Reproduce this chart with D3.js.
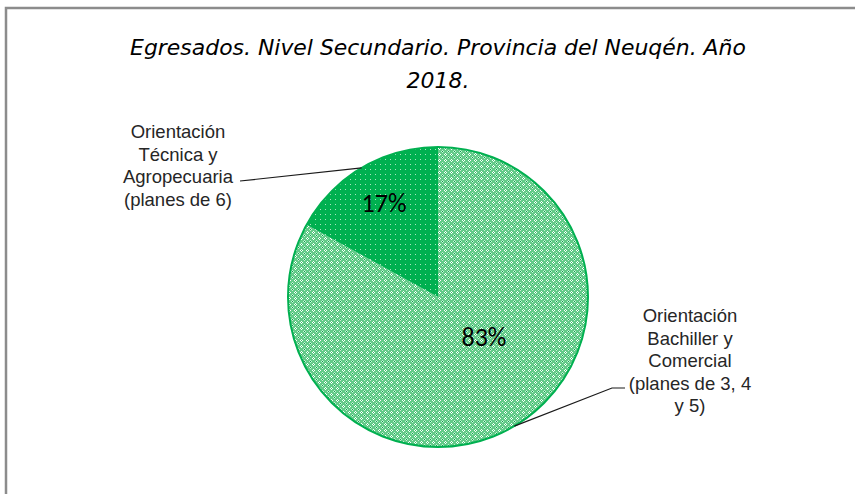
<!DOCTYPE html>
<html>
<head>
<meta charset="utf-8">
<script src="https://cdn.jsdelivr.net/npm/d3@7"></script>
<style>
  body { margin: 0; background: #fff; }
  svg { display: block; }
</style>
</head>
<body>
<div id="chart"></div>
<script>
// chart data
const categories = [
  'Orientación Bachiller y Comercial (planes de 3, 4 y 5)',
  'Orientación Técnica y Agropecuaria (planes de 6)'
]
const labelLines = [
  ['Orientación', 'Bachiller y', 'Comercial', '(planes de 3, 4', 'y 5)'],
  ['Orientación', 'Técnica y', 'Agropecuaria', '(planes de 6)']
]
const values = [83, 17]
const titleLines = ['Egresados. Nivel Secundario. Provincia del Neuqén. Año', '2018.']

const fullWidth = 857
const fullHeight = 494
const cx = 438, cy = 297, radius = 150

const svg = d3.select('#chart').append('svg')
  .attr('width', fullWidth)
  .attr('height', fullHeight)

const defs = svg.append('defs')

// light slice pattern: green with white crosses and darker dots
const pLight = defs.append('pattern')
  .attr('id', 'patLight')
  .attr('patternUnits', 'userSpaceOnUse')
  .attr('width', 6).attr('height', 6)
pLight.append('rect').attr('width', 6).attr('height', 6).attr('fill', '#62cb88')
pLight.append('rect').attr('x', 1).attr('y', 0).attr('width', 1).attr('height', 3).attr('fill', '#ffffff')
pLight.append('rect').attr('x', 0).attr('y', 1).attr('width', 3).attr('height', 1).attr('fill', '#ffffff')
pLight.append('rect').attr('x', 4).attr('y', 3).attr('width', 1).attr('height', 3).attr('fill', '#c9eed6')
pLight.append('rect').attr('x', 3).attr('y', 4).attr('width', 3).attr('height', 1).attr('fill', '#c9eed6')
pLight.append('rect').attr('x', 4).attr('y', 4).attr('width', 1).attr('height', 1).attr('fill', '#00a84a')
pLight.append('rect').attr('x', 1).attr('y', 1).attr('width', 1).attr('height', 1).attr('fill', '#2fbd65')

// dark slice pattern: solid green with sparse light dots
const pDark = defs.append('pattern')
  .attr('id', 'patDark')
  .attr('patternUnits', 'userSpaceOnUse')
  .attr('width', 5).attr('height', 5)
pDark.append('rect').attr('width', 5).attr('height', 5).attr('fill', '#00b050')
pDark.append('rect').attr('x', 2).attr('y', 2).attr('width', 1).attr('height', 1).attr('fill', '#a8e6c0')

const fills = ['url(#patLight)', 'url(#patDark)']

// frame (only top and left edges are visible)
svg.append('path')
  .attr('d', `M6,${fullHeight} L6,8 L${fullWidth - 2},8`)
  .attr('fill', 'none')
  .attr('stroke', '#8c8c8c')
  .attr('stroke-width', 2.5)

// title
const title = svg.append('text')
  .attr('x', cx)
  .attr('text-anchor', 'middle')
  .style('font-family', '"Comic Sans MS", "DejaVu Sans", sans-serif')
  .style('font-style', 'italic')
  .style('font-size', '22px')
  .style('fill', '#000')
titleLines.forEach((t, i) => {
  title.append('tspan')
    .attr('x', cx)
    .attr('y', 55 + i * 33)
    .text(t)
})
// keep title width close to the original
const firstLine = title.select('tspan').node()
const w = firstLine.getComputedTextLength()
if (w > 0) title.style('font-size', (22 * 616 / w).toFixed(2) + 'px')

// pie
const pie = d3.pie().sort(null).value(d => d)
const arc = d3.arc().innerRadius(0).outerRadius(radius)
const arcs = pie(values)

const g = svg.append('g').attr('transform', `translate(${cx},${cy})`)

g.selectAll('path.slice')
  .data(arcs)
  .enter().append('path')
  .classed('slice', true)
  .attr('d', arc)
  .attr('fill', (d, i) => fills[i])

g.append('circle')
  .attr('r', radius)
  .attr('fill', 'none')
  .attr('stroke', '#00b050')
  .attr('stroke-width', 2)

// percent labels
const total = d3.sum(values)
const pctPos = [[46, 40], [-54, -94]]
g.selectAll('text.pct')
  .data(arcs)
  .enter().append('text')
  .classed('pct', true)
  .attr('x', (d, i) => pctPos[i][0])
  .attr('y', (d, i) => pctPos[i][1])
  .attr('text-anchor', 'middle')
  .attr('dy', '0.35em')
  .style('font-family', 'Carlito, "Open Sans", sans-serif')
  .style('font-size', '26px')
  .style('fill', '#000')
  .text(d => Math.round(d.value / total * 100) + '%')

// leader lines start at the middle of each slice's outer edge
function edgePoint(angle) {
  return [cx + radius * Math.sin(angle), cy - radius * Math.cos(angle)]
}
const leaders = [
  { bend: [612, 388], end: [625, 388] },
  { bend: [240, 181], end: [240, 181] }
]
svg.selectAll('path.leader')
  .data(arcs)
  .enter().append('path')
  .classed('leader', true)
  .attr('d', (d, i) => {
    const p = edgePoint((d.startAngle + d.endAngle) / 2)
    const l = leaders[i]
    return `M${p[0]},${p[1]} L${l.bend[0]},${l.bend[1]} L${l.end[0]},${l.end[1]}`
  })
  .attr('fill', 'none')
  .attr('stroke', '#1a1a1a')
  .attr('stroke-width', 1.2)

// category labels
const labelPos = [[690, 322], [178, 138]]
labelLines.forEach((lines, i) => {
  const t = svg.append('text')
    .attr('text-anchor', 'middle')
    .style('font-family', '"Liberation Sans", Arial, sans-serif')
    .style('font-size', '18.5px')
    .style('fill', '#262626')
  lines.forEach((line, j) => {
    t.append('tspan')
      .attr('x', labelPos[i][0])
      .attr('y', labelPos[i][1] + j * 22.5)
      .text(line)
  })
})
</script>
</body>
</html>
